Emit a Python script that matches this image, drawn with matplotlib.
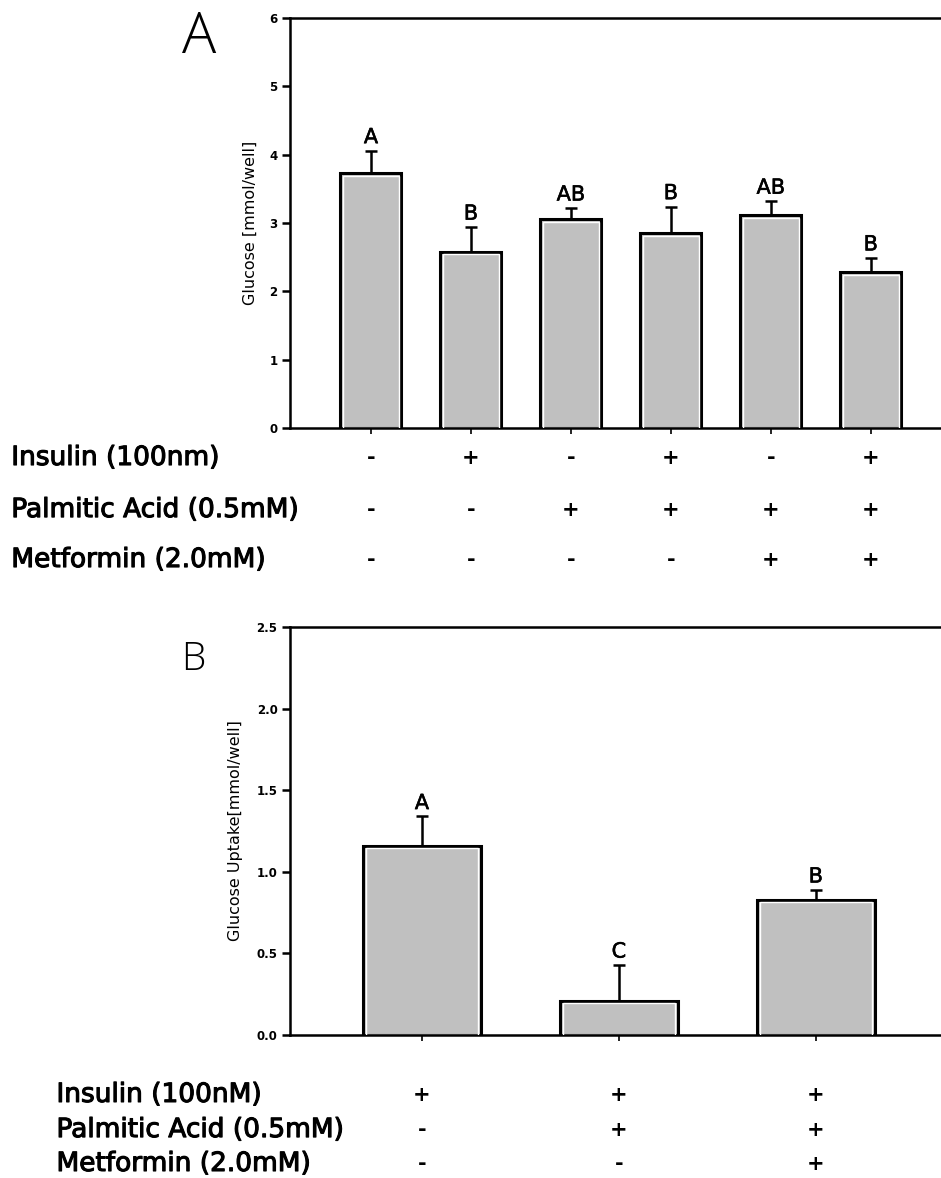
import numpy as np
import matplotlib
matplotlib.use("Agg")
import matplotlib.pyplot as plt
import matplotlib.patheffects as pe
from matplotlib.transforms import blended_transform_factory

# ---------------------------------------------------------------- data
a_values = [3.73, 2.58, 3.06, 2.85, 3.12, 2.28]
a_errors = [0.33, 0.36, 0.16, 0.39, 0.20, 0.21]
a_letters = ["A", "B", "AB", "B", "AB", "B"]
a_insulin = ["-", "+", "-", "+", "-", "+"]
a_palmitic = ["-", "-", "+", "+", "+", "+"]
a_metformin = ["-", "-", "-", "-", "+", "+"]
a_rows = ["Insulin (100nm)", "Palmitic Acid (0.5mM)", "Metformin (2.0mM)"]

b_values = [1.16, 0.21, 0.83]
b_errors = [0.18, 0.22, 0.06]
b_letters = ["A", "C", "B"]
b_insulin = ["+", "+", "+"]
b_palmitic = ["-", "+", "+"]
b_metformin = ["-", "-", "+"]
b_rows = ["Insulin (100nM)", "Palmitic Acid (0.5mM)", "Metformin (2.0mM)"]

WIDE = "DejaVu Sans"
BAR = "#c0c0c0"

fig = plt.figure(figsize=(9.41, 11.78), dpi=100)
axA = fig.add_axes([0.3082, 0.6367, 0.70, 0.3480])
axB = fig.add_axes([0.3082, 0.1214, 0.70, 0.3463])


def draw_panel(ax, values, errors, letters, width, ylim, yticks, ylabel, xlim,
               letter_pad, inset, lpad):
    x = np.arange(len(values))
    ax.bar(x, values, width=width, color=BAR, edgecolor="black", linewidth=2.2, zorder=3)
    # thin white highlight just inside each bar outline
    dx, dy = inset
    ax.bar(x, np.array(values) - dy, width=width - 2 * dx, bottom=0,
           color="none", edgecolor="white", linewidth=1.0, zorder=4)
    ax.errorbar(x, values, yerr=[np.zeros(len(values)), errors], fmt="none",
                ecolor="black", elinewidth=1.8, capsize=4.5, capthick=1.8, zorder=2)
    for xi, v, e, t in zip(x, values, errors, letters):
        ax.text(xi, v + e + letter_pad, t, ha="center", va="bottom",
                fontsize=15, family=WIDE,
                path_effects=[pe.withStroke(linewidth=0.4, foreground="black")])
    ax.set_xlim(*xlim)
    ax.set_ylim(*ylim)
    ax.set_yticks(yticks)
    ax.set_xticks(x)
    ax.set_xticklabels([])
    ax.tick_params(axis="y", direction="out", length=6, width=1.8, labelsize=8.5, pad=3)
    ax.tick_params(axis="x", direction="out", length=4, width=1.2)
    ax.set_ylabel(ylabel, fontsize=11.5, family=WIDE, labelpad=lpad)
    for s in ("left", "bottom", "top"):
        ax.spines[s].set_linewidth(1.8)
    ax.spines["right"].set_visible(False)


draw_panel(axA, a_values, a_errors, a_letters, 0.61, (0, 6), range(0, 7),
           "Glucose [mmol/well]", (-0.81, 5.78), 0.05, (0.025, 0.04), 8)
draw_panel(axB, b_values, b_errors, b_letters, 0.60, (0, 2.5),
           [0.0, 0.5, 1.0, 1.5, 2.0, 2.5], "Glucose Uptake[mmol/well]",
           (-0.67, 2.675), 0.02, (0.015, 0.012), 10)
axB.set_yticklabels(["0.0", "0.5", "1.0", "1.5", "2.0", "2.5"])
for ax in (axA, axB):
    for lab in ax.get_yticklabels():
        lab.set_fontweight("bold")

# panel letters
fig.text(0.193, 0.955, "A", fontsize=41, family=["Open Sans", WIDE],
         fontweight="light", ha="left", va="baseline")
fig.text(0.193, 0.4312, "B", fontsize=28, family=["Open Sans", WIDE],
         fontweight="light", ha="left", va="baseline")

# treatment tables
medium = [pe.withStroke(linewidth=0.8, foreground="black")]
row_style = dict(fontsize=19, family=WIDE, ha="left", va="center", path_effects=medium)
mark_style = dict(fontsize=15, family=WIDE, fontweight="bold", ha="center", va="center")

a_table_y = [0.6112, 0.5670, 0.5246]
trA = blended_transform_factory(axA.transData, fig.transFigure)
for name, yy, marks in zip(a_rows, a_table_y, [a_insulin, a_palmitic, a_metformin]):
    fig.text(0.012, yy, name, **row_style)
    for xi, m in enumerate(marks):
        axA.text(xi, yy, m, transform=trA, **mark_style)

b_table_y = [0.0705, 0.0407, 0.0119]
trB = blended_transform_factory(axB.transData, fig.transFigure)
for name, yy, marks in zip(b_rows, b_table_y, [b_insulin, b_palmitic, b_metformin]):
    fig.text(0.060, yy, name, **row_style)
    for xi, m in enumerate(marks):
        axB.text(xi, yy, m, transform=trB, **mark_style)

fig.savefig("out.png", dpi=100)
